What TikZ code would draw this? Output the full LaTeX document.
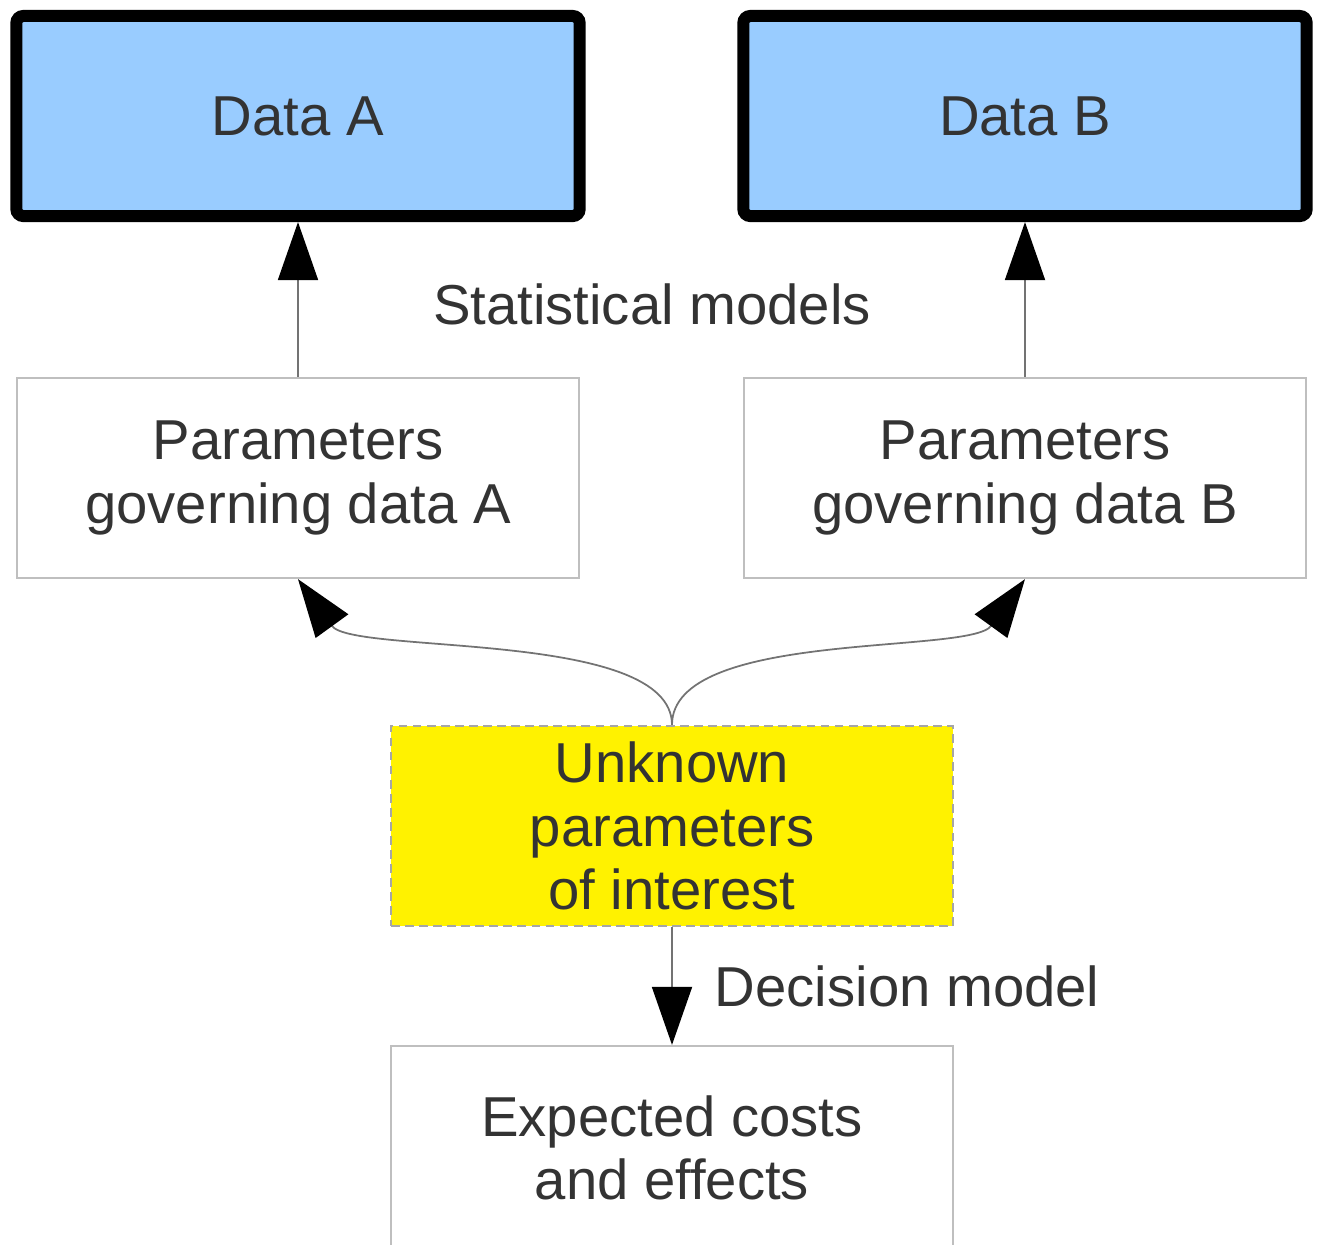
\documentclass[tikz,border=0pt]{standalone}
\usepackage{fontspec}
\setmainfont{Liberation Sans}
\usepackage{tikz}
\usetikzlibrary{arrows.meta,positioning,calc}
\definecolor{txtgray}{HTML}{333333}
\definecolor{databl}{HTML}{99CCFF}
\tikzset{
  basic/.style  = {rectangle, inner sep=0pt, align=center, text=txtgray,
                   font=\fontsize{16}{18}\selectfont},
  databox/.style = {basic, draw=black, line width=0.12cm, rounded corners=2pt,
                   fill=databl, minimum width=5.63cm, minimum height=2cm},
  parambox/.style = {basic, draw=black!25, line width=0.6pt,
                   minimum width=5.62cm, minimum height=2cm},
  unknownbox/.style = {parambox, fill=yellow, dash pattern=on 2.5pt off 1.5pt,
                   draw=black!35},
  lbl/.style = {basic},
  conn/.style = {draw=black!55, line width=0.5pt,
                 -{Triangle[length=0.58cm,width=0.4cm,black]}}
}
\begin{document}
\begin{tikzpicture}[x=0.01cm,y=-0.01cm]
\useasboundingbox (0,0) rectangle (1318,1244);
% data
\node[databox] (dataA) at (298,116) {Data A};
\node[databox] (dataB) at (1025,116) {Data B};
% parameters
\node[parambox] (parA) at (298,478) {Parameters\\governing data A};
\node[parambox] (parB) at (1025,478) {Parameters\\governing data B};
\node[unknownbox] (unk) at (672,826) {Unknown\\parameters\\of interest};
\node[parambox, minimum height=2.04cm] (exp) at (672,1148) {Expected costs\\and effects};
\node[lbl] (stat) at (652,304) {Statistical models};
% connectors
\draw[conn] (parA) -- (dataA);
\draw[conn] (parB) -- (dataB);
\draw[conn] (unk.north) .. controls ($(unk.north)+(0,-96)$) and ($(parA.south)+(55,76)$) .. (parA.south);
\draw[conn] (unk.north) .. controls ($(unk.north)+(0,-96)$) and ($(parB.south)+(-55,76)$) .. (parB.south);
\draw[conn] (unk) -- node[lbl, midway, right=0.42cm] (dec) {Decision model} (exp);
\end{tikzpicture}
\end{document}
